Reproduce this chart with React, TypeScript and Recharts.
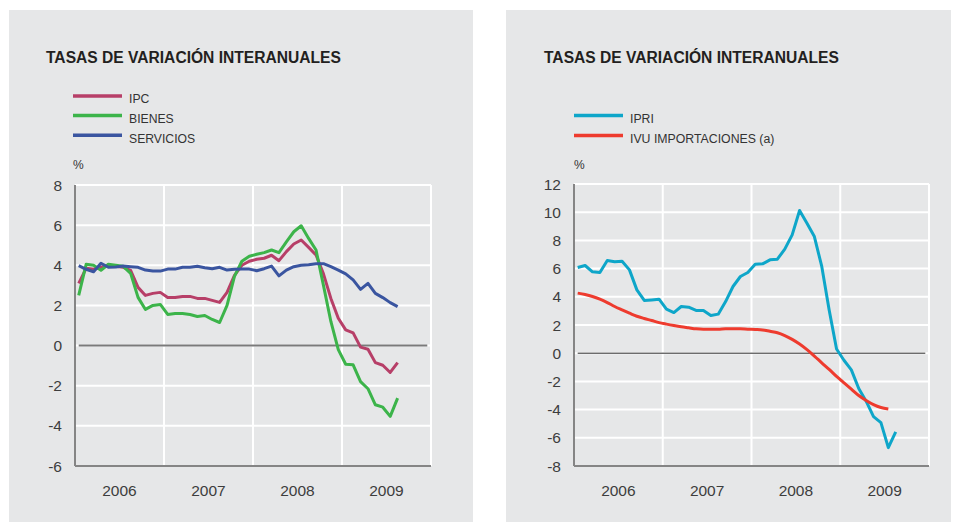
import React from 'react';
import { LineChart, Line, XAxis, YAxis, CartesianGrid, ReferenceLine } from 'recharts';

// ---- categories ----
const yearLabels = ['2006', '2007', '2008', '2009'];
const monthsPerYear = 12;
const yearBounds = [12, 24, 36, 48];
const yearTicks = [6, 18, 30, 42];

// ---- left panel series (monthly, Jan 2006 - Aug 2009) ----
const ipc = [
  3.1, 3.85, 3.8, 3.9, 4.0, 3.95, 3.9, 3.75, 2.9, 2.5, 2.6, 2.65,
  2.4, 2.4, 2.45, 2.45, 2.35, 2.35, 2.25, 2.15, 2.65, 3.5, 4.0, 4.2,
  4.3, 4.35, 4.5, 4.23, 4.68, 5.06, 5.26, 4.89, 4.51, 3.57, 2.35, 1.36,
  0.78, 0.63, -0.08, -0.18, -0.85, -0.98, -1.34, -0.85,
];
const bienes = [
  2.5, 4.05, 4.0, 3.75, 4.05, 4.0, 3.95, 3.6, 2.4, 1.8, 2.0, 2.05,
  1.55, 1.6, 1.6, 1.55, 1.45, 1.5, 1.3, 1.15, 2.0, 3.45, 4.2, 4.45,
  4.55, 4.63, 4.76, 4.63, 5.17, 5.67, 5.97, 5.34, 4.76, 3.0, 1.2, -0.2,
  -0.93, -0.96, -1.8, -2.15, -2.95, -3.07, -3.53, -2.62,
];
const servicios = [
  3.98, 3.8, 3.68, 4.1, 3.9, 3.91, 3.96, 3.93, 3.9, 3.76, 3.71, 3.71,
  3.81, 3.81, 3.9, 3.9, 3.95, 3.88, 3.83, 3.9, 3.76, 3.8, 3.81, 3.81,
  3.73, 3.83, 3.96, 3.47, 3.76, 3.93, 4.0, 4.03, 4.08, 4.08, 3.93, 3.76,
  3.57, 3.27, 2.8, 3.1, 2.6, 2.39, 2.14, 1.94,
];

// ---- right panel series ----
const ipri = [
  6.08, 6.22, 5.77, 5.72, 6.57, 6.48, 6.52, 5.91, 4.49, 3.74, 3.78, 3.83,
  3.12, 2.88, 3.31, 3.26, 3.03, 3.03, 2.67, 2.77, 3.66, 4.73, 5.44, 5.72,
  6.31, 6.34, 6.62, 6.67, 7.38, 8.39, 10.12, 9.22, 8.27, 6.15, 3.07, 0.3,
  -0.5, -1.18, -2.5, -3.4, -4.5, -4.92, -6.7, -5.58,
];
const ivu = [
  4.26, 4.16, 4.02, 3.83, 3.59, 3.31, 3.07, 2.84, 2.62, 2.46, 2.32, 2.17,
  2.06, 1.96, 1.87, 1.8, 1.73, 1.7, 1.7, 1.7, 1.73, 1.73, 1.73, 1.7,
  1.68, 1.65, 1.55, 1.45, 1.25, 0.98, 0.65, 0.25, -0.2, -0.68, -1.15, -1.65,
  -2.1, -2.55, -3.0, -3.35, -3.65, -3.85, -3.95, null,
];

// ---- ticks ----
const leftYTicks = [-6, -4, -2, 0, 2, 4, 6, 8];
const rightYTicks = [-8, -6, -4, -2, 0, 2, 4, 6, 8, 10, 12];

const title = 'TASAS DE VARIACIÓN INTERANUALES';

const leftSeries = [
  { key: 'ipc', name: 'IPC', color: '#b73f68' },
  { key: 'bienes', name: 'BIENES', color: '#3cb44a' },
  { key: 'servicios', name: 'SERVICIOS', color: '#3a55a0' },
];
const rightSeries = [
  { key: 'ipri', name: 'IPRI', color: '#0ea6c9' },
  { key: 'ivu', name: 'IVU IMPORTACIONES (a)', color: '#ee3b2e' },
];

const rows = ipc.map((v, i) => ({
  t: i + 0.5,
  ipc: v,
  bienes: bienes[i],
  servicios: servicios[i],
  ipri: ipri[i],
  ivu: ivu[i],
}));

const FONT = '"Liberation Sans", Arial, Helvetica, sans-serif';
const PANEL = '#e6e7e8';
const AXIS = '#858585';
const TEXT = '#3d3d3d';

const vGen = (props: any) => {
  const { xAxis, offset } = props || {};
  if (xAxis && typeof xAxis.scale === 'function') {
    return yearBounds.map((v) => xAxis.scale(v));
  }
  return yearBounds.map((v) => offset.left + (offset.width * v) / (yearLabels.length * monthsPerYear));
};

const yearFmt = (v: number) => yearLabels[Math.floor(v / monthsPerYear)] ?? '';

function Panel(props: {
  left: number;
  width: number;
  yWidth: number;
  marginRight: number;
  marginTop: number;
  domain: [number, number];
  ticks: number[];
  series: { key: string; name: string; color: string }[];
  zeroColor: string;
  zeroWidth: number;
  smoothKey?: string;
}) {
  return (
    <div style={{ position: 'absolute', left: props.left, top: 170 }}>
      <LineChart
        width={props.width}
        height={350}
        data={rows}
        margin={{ top: props.marginTop, right: props.marginRight, bottom: 24, left: 0 }}
        style={{ fontFamily: FONT }}
      >
        <CartesianGrid
          stroke="#ffffff"
          strokeWidth={2}
          verticalCoordinatesGenerator={vGen}
        />
        <XAxis
          dataKey="t"
          type="number"
          domain={[0, yearLabels.length * monthsPerYear]}
          ticks={yearTicks}
          tickFormatter={yearFmt}
          tickLine={false}
          tickMargin={13}
          axisLine={{ stroke: AXIS, strokeWidth: 2 }}
          tick={{ fill: TEXT, fontSize: 15.5, fontFamily: FONT }}
          height={30}
        />
        <YAxis
          type="number"
          domain={props.domain}
          ticks={props.ticks}
          interval={0}
          tickLine={false}
          tickMargin={7}
          axisLine={{ stroke: AXIS, strokeWidth: 2 }}
          tick={{ fill: TEXT, fontSize: 15.5, fontFamily: FONT }}
          width={props.yWidth}
        />
        <ReferenceLine
          segment={[{ x: 0.5, y: 0 }, { x: 47.5, y: 0 }]}
          stroke={props.zeroColor}
          strokeWidth={props.zeroWidth}
        />
        {props.series.map((s) => (
          <Line
            key={s.key}
            dataKey={s.key}
            name={s.name}
            type={s.key === props.smoothKey ? 'monotone' : 'linear'}
            stroke={s.color}
            strokeWidth={3}
            strokeLinejoin="round"
            dot={false}
            activeDot={false}
            isAnimationActive={false}
          />
        ))}
      </LineChart>
    </div>
  );
}

export default function App() {
  return (
    <div style={{ position: 'absolute', left: 0, top: 0, width: 960, height: 524, background: '#ffffff' }}>
      <svg width={960} height={524} style={{ position: 'absolute', left: 0, top: 0 }}>
        <rect x={9} y={10} width={464} height={512} fill={PANEL} />
        <rect x={506} y={10} width={445} height={512} fill={PANEL} />
        <g style={{ fontFamily: FONT }}>
          <text x={46} y={63} fontSize={15.6} fontWeight={700} fill="#231f20">{title}</text>
          <text x={544} y={63} fontSize={15.6} fontWeight={700} fill="#231f20">{title}</text>
          {leftSeries.map((s, i) => (
            <g key={s.key}>
              <line x1={73} x2={122} y1={96 + i * 19.6} y2={96 + i * 19.6} stroke={s.color} strokeWidth={3.5} />
              <text x={129} y={103.3 + i * 19.6} fontSize={12.2} fill="#333">{s.name}</text>
            </g>
          ))}
          {rightSeries.map((s, i) => (
            <g key={s.key}>
              <line x1={574} x2={623} y1={115.5 + i * 20} y2={115.5 + i * 20} stroke={s.color} strokeWidth={3.5} />
              <text x={630} y={122.5 + i * 20} fontSize={12.3} fill="#333">{s.name}</text>
            </g>
          ))}
          <text x={73} y={169} fontSize={12} fill="#333">%</text>
          <text x={574} y={169} fontSize={12} fill="#333">%</text>
        </g>
      </svg>
      <Panel
        left={9}
        width={464}
        yWidth={66}
        marginRight={42}
        marginTop={15}
        domain={[-6, 8]}
        ticks={leftYTicks}
        series={leftSeries}
        zeroColor="#7a7a7a"
        zeroWidth={2}
      />
      <Panel
        left={506}
        width={445}
        yWidth={68}
        marginRight={22}
        marginTop={14}
        domain={[-8, 12]}
        ticks={rightYTicks}
        series={rightSeries}
        zeroColor="#2a2a2a"
        zeroWidth={1}
        smoothKey="ivu"
      />
    </div>
  );
}
